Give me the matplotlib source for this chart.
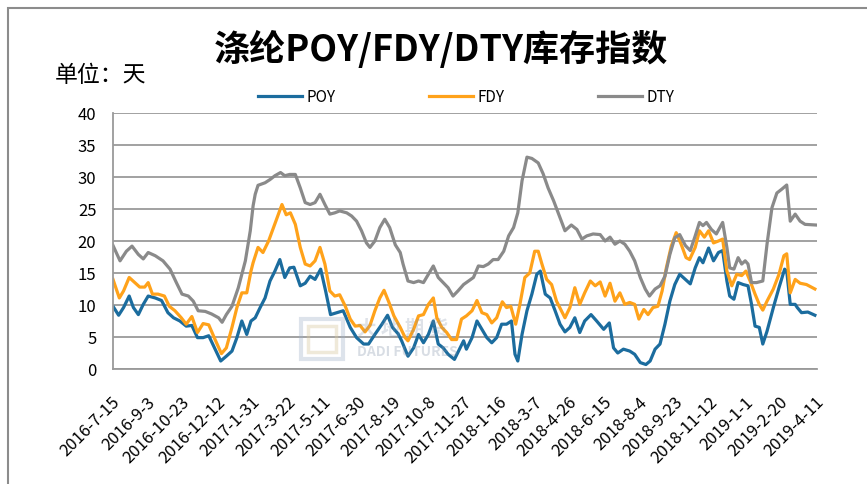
import matplotlib
matplotlib.use('Agg')
import matplotlib.pyplot as plt
import matplotlib.transforms as mtransforms
import pandas as pd
from matplotlib.patches import Rectangle

plt.rcParams['font.family'] = ['Noto Sans CJK SC', 'DejaVu Sans']

# days since 2016-7-15 and index values (天)
start = pd.Timestamp('2016-07-15')

poy_days = [0, 8, 15, 23, 29, 36, 43, 50, 60, 69, 78, 86, 95, 104, 112, 120, 128, 136, 145, 153,
            161, 169, 176, 183, 190, 196, 202, 209, 216, 223, 230, 237, 244, 251, 257, 266, 273, 280,
            287, 295, 302, 309, 318, 327, 337, 346, 356, 363, 372, 382, 390, 397, 405, 410, 419, 427,
            434, 441, 448, 455, 462, 469, 476, 485, 493, 498, 502, 510, 517, 524, 531, 538, 545, 552,
            559, 566, 571, 575, 581, 588, 595, 602, 607, 614, 621, 628, 635, 642, 649, 656, 663, 670,
            679, 687, 697, 705, 711, 717, 725, 734, 741, 749, 757, 763, 770, 777, 784, 791, 798, 805,
            813, 820, 827, 833, 838, 846, 853, 860, 866, 872, 876, 882, 888, 895, 902, 907, 912, 918,
            923, 929, 938, 946, 954, 957, 962, 969, 972, 978, 987, 997]
poy = [9.8, 8.4, 9.6, 11.4, 9.6, 8.5, 10.1, 11.4, 11.1, 10.7, 8.8, 8.0, 7.5, 6.7, 6.8, 4.9, 4.9, 5.2, 3.1, 1.25,
       2.0, 2.8, 4.9, 7.5, 5.4, 7.5, 8.0, 9.6, 11.1, 13.75, 15.3, 17.1, 14.3, 15.8, 15.9, 13.0, 13.4, 14.5,
       14.0, 15.6, 12.2, 8.5, 8.8, 9.1, 6.5, 4.9, 3.9, 3.9, 5.4, 7.0, 8.4, 6.5, 5.5, 4.4, 2.0, 3.3,
       5.4, 4.1, 5.4, 7.5, 3.9, 3.3, 2.3, 1.5, 3.3, 4.4, 3.1, 4.9, 7.5, 6.2, 4.9, 4.1, 4.9, 7.0,
       7.0, 7.5, 2.3, 1.25, 5.4, 9.1, 11.7, 14.8, 15.3, 11.7, 11.1, 9.1, 7.0, 5.8, 6.5, 8.0, 5.7, 7.5,
       8.5, 7.5, 6.2, 7.2, 3.3, 2.5, 3.1, 2.8, 2.3, 1.0, 0.7, 1.25, 3.1, 3.9, 7.0, 10.6, 13.2, 14.8,
       14.0, 13.3, 15.8, 17.4, 16.6, 18.9, 16.9, 18.2, 18.5, 13.75, 11.4, 10.9, 13.5, 13.2, 13.0, 10.1, 6.7, 6.5,
       3.9, 5.9, 9.6, 12.7, 15.6, 15.3, 10.1, 10.1, 9.6, 8.8, 8.9, 8.4]

fdy_days = [0, 9, 15, 23, 31, 38, 45, 50, 56, 64, 73, 80, 88, 97, 104, 112, 120, 128, 136, 145,
            154, 161, 169, 176, 183, 190, 196, 199, 206, 213, 221, 228, 235, 240, 246, 252, 259, 266,
            273, 280, 287, 294, 301, 308, 315, 322, 330, 337, 344, 351, 358, 365, 372, 379, 385, 392,
            399, 408, 415, 419, 427, 434, 441, 448, 455, 460, 467, 474, 481, 488, 495, 502, 510, 517,
            524, 531, 538, 545, 553, 559, 565, 572, 578, 585, 592, 599, 604, 609, 616, 623, 630, 642,
            649, 656, 663, 670, 678, 685, 692, 699, 706, 713, 720, 727, 734, 741, 747, 754, 760, 767,
            774, 780, 786, 793, 800, 807, 814, 819, 827, 833, 840, 846, 853, 860, 866, 872, 879, 886,
            893, 899, 905, 912, 918, 923, 929, 938, 946, 953, 957, 962, 969, 976, 985, 997]
fdy = [14.0, 11.1, 12.2, 14.3, 13.5, 12.8, 12.8, 13.5, 11.7, 11.7, 11.4, 9.8, 9.1, 8.0, 7.0, 8.2, 5.7, 7.1, 6.9, 4.6,
       2.4, 3.3, 6.5, 9.6, 11.9, 11.9, 15.3, 16.6, 19.0, 18.2, 20.0, 22.1, 24.2, 25.7, 24.1, 24.4, 22.6, 19.0,
       16.4, 16.1, 16.9, 19.0, 16.4, 12.2, 11.4, 11.6, 9.8, 7.8, 6.7, 6.8, 5.8, 6.8, 9.1, 11.1, 12.3, 10.4,
       8.3, 6.5, 4.9, 4.4, 6.2, 8.3, 8.5, 10.1, 11.1, 8.0, 6.5, 5.7, 4.6, 4.6, 7.8, 8.3, 9.1, 10.7,
       8.8, 8.5, 7.2, 8.0, 10.5, 9.6, 9.8, 7.0, 10.1, 14.3, 15.0, 18.4, 18.4, 16.5, 14.0, 13.2, 10.6, 8.0,
       9.6, 12.7, 10.1, 11.9, 13.75, 13.0, 13.6, 11.4, 13.4, 10.6, 11.9, 10.1, 10.4, 10.1, 7.8, 9.3, 8.5, 9.6,
       9.8, 12.2, 15.8, 19.2, 21.3, 19.5, 17.4, 17.1, 19.0, 21.6, 20.6, 21.6, 19.7, 20.0, 20.3, 15.3, 13.0, 14.8,
       14.6, 15.3, 13.75, 11.7, 10.1, 9.2, 10.6, 12.5, 14.8, 17.7, 18.0, 11.9, 14.0, 13.4, 13.2, 12.5]

dty_days = [0, 10, 19, 27, 36, 43, 50, 60, 71, 81, 90, 98, 107, 114, 121, 131, 140, 150, 155, 161,
            169, 178, 188, 195, 199, 202, 206, 216, 223, 230, 238, 244, 251, 259, 266, 273, 280, 287,
            294, 301, 308, 315, 322, 332, 339, 346, 353, 360, 365, 372, 379, 386, 393, 401, 408, 412,
            419, 427, 434, 441, 448, 455, 462, 469, 476, 483, 490, 498, 505, 512, 519, 526, 533, 540,
            547, 555, 562, 569, 575, 581, 588, 595, 604, 611, 618, 626, 633, 642, 651, 659, 666, 673,
            682, 692, 699, 706, 713, 720, 727, 734, 741, 749, 756, 762, 770, 777, 784, 791, 798, 805,
            813, 820, 827, 833, 838, 843, 850, 857, 866, 872, 876, 882, 888, 893, 898, 902, 907, 914,
            923, 929, 936, 943, 950, 957, 962, 969, 976, 983, 998]
dty = [19.3, 16.9, 18.4, 19.2, 17.9, 17.2, 18.2, 17.7, 16.9, 15.6, 13.5, 11.7, 11.4, 10.6, 9.1, 9.0, 8.6, 8.0, 7.3, 8.5,
       9.8, 12.7, 16.9, 21.6, 25.5, 27.3, 28.7, 29.1, 29.6, 30.2, 30.7, 30.2, 30.4, 30.4, 28.3, 26.0, 25.7, 26.0,
       27.3, 25.7, 24.2, 24.4, 24.7, 24.4, 23.9, 23.1, 21.6, 19.7, 19.0, 20.0, 22.1, 23.4, 22.1, 19.4, 18.2, 16.4,
       13.75, 13.5, 13.75, 13.5, 14.8, 16.1, 14.3, 13.5, 12.7, 11.4, 12.2, 13.2, 13.75, 14.3, 16.1, 16.0, 16.4, 17.1,
       17.1, 18.4, 20.8, 22.1, 24.4, 29.4, 33.1, 32.9, 32.2, 30.5, 28.3, 26.25, 24.2, 21.6, 22.5, 21.8, 20.3, 20.8,
       21.1, 21.0, 20.0, 20.6, 19.5, 20.0, 19.5, 18.4, 16.9, 14.3, 12.5, 11.4, 12.5, 13.0, 14.5, 17.9, 20.5, 21.0,
       19.3, 18.5, 20.8, 22.9, 22.4, 22.9, 21.8, 21.1, 22.9, 19.0, 15.8, 15.6, 17.4, 16.4, 16.9, 16.4, 13.5, 13.5,
       13.75, 19.5, 25.2, 27.5, 28.1, 28.75, 23.1, 24.2, 23.1, 22.6, 22.5]

tick_days = list(range(0, 1001, 50))


def to_dates(days):
    return start + pd.to_timedelta(days, unit='D')


fig = plt.figure(figsize=(8.67, 4.84), dpi=100)
ax = fig.add_axes([113 / 867, 1 - 369 / 484, 704 / 867, 256 / 484])

ax.plot(to_dates(poy_days), poy, color='#1B6C9E', lw=2.3, label='POY', solid_joinstyle='round')
ax.plot(to_dates(fdy_days), fdy, color='#FFA21A', lw=2.3, label='FDY', solid_joinstyle='round')
ax.plot(to_dates(dty_days), dty, color='#8A8A8A', lw=2.3, label='DTY', solid_joinstyle='round')

ax.set_ylim(0, 40)
ax.set_yticks(range(0, 41, 5))
ax.set_xlim(to_dates([0])[0], to_dates([1000])[0])
ticks = to_dates(tick_days)
ax.set_xticks(ticks)
ax.set_xticklabels([f'{d.year}-{d.month}-{d.day}' for d in ticks], rotation=45,
                   ha='right', rotation_mode='anchor', fontsize=12)
ax.tick_params(axis='x', length=0, pad=18)
ax.tick_params(axis='y', length=0, pad=12, labelsize=12)
shift = mtransforms.ScaledTranslation(-2 / 100, 0, fig.dpi_scale_trans)
for lab in ax.get_xticklabels():
    lab.set_transform(lab.get_transform() + shift)
ax.grid(axis='y', color='#9A9A9A', lw=1.3)
ax.set_axisbelow(True)
for s in ['top', 'right']:
    ax.spines[s].set_visible(False)
for s in ['left', 'bottom']:
    ax.spines[s].set_color('#9A9A9A')
    ax.spines[s].set_linewidth(1.3)

# watermark
fig.text(357 / 867, 1 - 329 / 484, '大 地 期 货', fontsize=14, color='#7F8FA6', alpha=0.25,
         fontweight='bold', va='center')
fig.text(357 / 867, 1 - 352 / 484, 'DADI FUTURES', fontsize=10, color='#7F8FA6', alpha=0.3,
         fontweight='bold', va='center')
fig.patches.append(Rectangle((301 / 867, 1 - 359 / 484), 42 / 867, 40 / 484, transform=fig.transFigure,
                             fill=False, ec='#9FB0C8', lw=3, alpha=0.35))
fig.patches.append(Rectangle((308 / 867, 1 - 352 / 484), 28 / 867, 26 / 484, transform=fig.transFigure,
                             fill=False, ec='#D8C8A0', lw=2.5, alpha=0.4))

fig.text(441 / 867, 1 - 50 / 484, '涤纶POY/FDY/DTY库存指数', fontsize=26, fontweight='bold',
         ha='center', va='center')
fig.text(55 / 867, 1 - 75 / 484, '单位：天', fontsize=16.5, ha='left', va='center')

fig.legend(loc='center', bbox_to_anchor=(466 / 867, 1 - 97 / 484), ncol=3, frameon=False,
           fontsize=11, handlelength=2.9, columnspacing=6.1, handletextpad=0.3)

# outer chart border
fig.patches.append(Rectangle((8 / 867, -0.05), 1.2, 1.05 - 8 / 484, transform=fig.transFigure,
                             fill=False, ec='#8C8C8C', lw=1.5))

fig.savefig('out.png', dpi=100)
